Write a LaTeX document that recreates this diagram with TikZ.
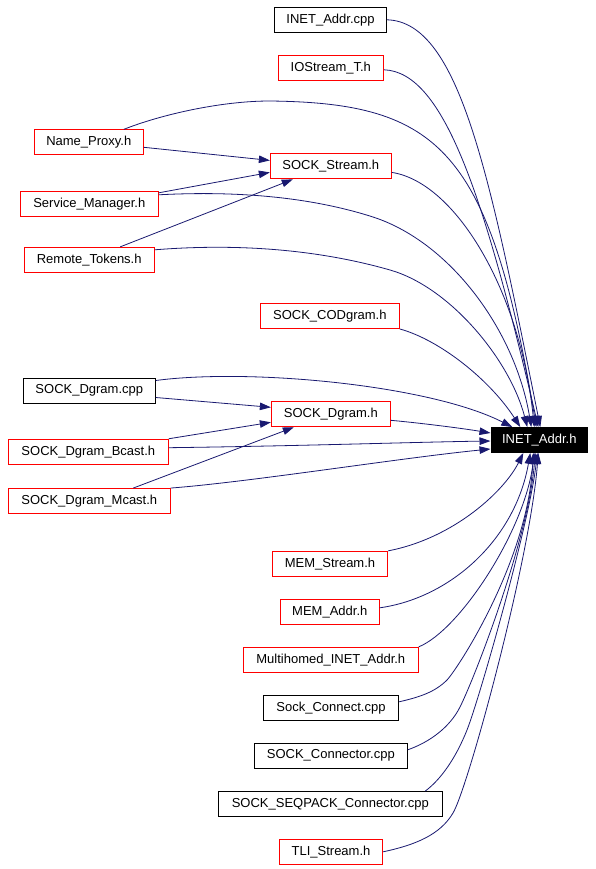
\documentclass[tikz,border=0pt]{standalone}
\usepackage{fontspec}
\setmainfont{Liberation Sans}
\usetikzlibrary{arrows.meta,calc}
\definecolor{edgecol}{HTML}{191970}
\begin{document}
\begin{tikzpicture}[x=1pt,y=-1pt,
  box/.style={rectangle, draw, line width=0.9pt, minimum height=25pt, inner sep=0pt, font=\fontsize{13}{15}\selectfont, text=black},
  redbox/.style={box, draw=red},
  blackbox/.style={box, draw=black},
  focusbox/.style={box, draw=black, fill=black, text=white},
  dep/.style={draw=edgecol, line width=0.8pt, -{Triangle[length=11pt,width=7.5pt]}}
]
\useasboundingbox[fill=white] (0,0) rectangle (595,869);

% nodes
\node[blackbox, minimum width=112.4pt] (iac) at (330.5,19.8) {INET\_Addr.cpp};
\node[redbox, minimum width=105.7pt] (ios) at (330.8,67.8) {IOStream\_T.h};
\node[redbox, minimum width=109pt] (np) at (88.8,142.3) {Name\_Proxy.h};
\node[redbox, minimum width=121pt] (ss) at (330.8,166.4) {SOCK\_Stream.h};
\node[redbox, minimum width=138pt] (sm) at (89.3,203.8) {Service\_Manager.h};
\node[redbox, minimum width=130.3pt] (rt) at (89.2,259.8) {Remote\_Tokens.h};
\node[redbox, minimum width=139pt] (cod) at (329.8,316) {SOCK\_CODgram.h};
\node[blackbox, minimum width=132pt] (dcpp) at (89.3,390.5) {SOCK\_Dgram.cpp};
\node[redbox, minimum width=119pt] (dh) at (330.8,414.3) {SOCK\_Dgram.h};
\node[redbox, minimum width=160pt] (bc) at (88.3,451.7) {SOCK\_Dgram\_Bcast.h};
\node[redbox, minimum width=162pt] (mc) at (89.3,501) {SOCK\_Dgram\_Mcast.h};
\node[focusbox, minimum width=96.7pt] (ia) at (539.3,440) {INET\_Addr.h};
\node[redbox, minimum width=115.4pt] (ms) at (330,563.8) {MEM\_Stream.h};
\node[redbox, minimum width=99pt] (ma) at (329.8,611.8) {MEM\_Addr.h};
\node[redbox, minimum width=175pt] (mh) at (330.8,659.8) {Multihomed\_INET\_Addr.h};
\node[blackbox, minimum width=135.4pt] (sc) at (331,707.8) {Sock\_Connect.cpp};
\node[blackbox, minimum width=153pt] (sco) at (330.8,755.8) {SOCK\_Connector.cpp};
\node[blackbox, minimum width=224pt] (sq) at (330.3,804) {SOCK\_SEQPACK\_Connector.cpp};
\node[redbox, minimum width=103.4pt] (tli) at (331,851.8) {TLI\_Stream.h};

% edges into SOCK_Stream.h
\draw[dep] ($(np.east)+(0,5)$) -- ($(ss.west)+(0,-6)$);
\draw[dep] ($(sm.east)+(0,-11)$) -- ($(ss.west)+(0,6)$);
\draw[dep] ($(rt.north)+(31,0)$) -- ($(ss.south)+(-38,0)$);

% edges into SOCK_Dgram.h
\draw[dep] ($(dcpp.east)+(0,7)$) -- ($(dh.west)+(0,-7)$);
\draw[dep] (bc.north east) -- ($(dh.west)+(0,8)$);
\draw[dep] ($(mc.north)+(44,0)$) -- ($(dh.south)+(-37,0)$);

% edges into INET_Addr.h from above
\draw[dep] (iac.east) .. controls (460,22) and (490,177) .. ($(ia.north)+(1,0)$);
\draw[dep] ($(ios.east)+(0,2)$) .. controls (445,72) and (485,200) .. ($(ia.north)+(-1,0)$);
\draw[dep] ($(np.north)+(35,0)$) .. controls (160,115) and (220,101) .. (270,101)
           .. controls (440,103) and (490,150) .. ($(ia.north)+(-3,0)$);
\draw[dep] ($(ss.east)+(0,6)$) .. controls (455,182) and (520,290) .. ($(ia.north)+(-5,0)$);
\draw[dep] ($(sm.east)+(0,-9)$) .. controls (250,190) and (320,200) .. (373,217)
           .. controls (450,242) and (515,330) .. ($(ia.north)+(-8,0)$);
\draw[dep] ($(rt.east)+(0,-10)$) .. controls (240,243) and (320,250) .. (390,270)
           .. controls (450,287) and (510,360) .. ($(ia.north)+(-12,0)$);
\draw[dep] (cod.south east) .. controls (440,340) and (490,380) .. ($(ia.north)+(-19,0)$);
\draw[dep] ($(dcpp.east)+(0,-10)$) .. controls (250,368) and (430,385) .. ($(ia.north)+(-27,0)$);

% edges into INET_Addr.h from the left
\draw[dep] ($(dh.east)+(0,6)$) .. controls (420,423) and (460,428) .. ($(ia.west)+(0,-7)$);
\draw[dep] ($(bc.east)+(0,-4)$) .. controls (300,446) and (420,442) .. ($(ia.west)+(0,1)$);
\draw[dep] (mc.north east) .. controls (250,482) and (400,458) .. ($(ia.west)+(0,9)$);

% edges into INET_Addr.h from below
\draw[dep] (ms.north east) .. controls (455,538) and (505,490) .. ($(ia.south)+(-16,0)$);
\draw[dep] ($(ma.east)+(0,-4)$) .. controls (450,598) and (515,540) .. ($(ia.south)+(-9,0)$);
\draw[dep] (mh.north east) .. controls (460,630) and (525,530) .. ($(ia.south)+(-5,0)$);
\draw[dep] ($(sc.east)+(0,-6)$) .. controls (420,697) and (435,692) .. (447,680)
           .. controls (459,667) and (528,560) .. ($(ia.south)+(-6,0)$);
\draw[dep] ($(sco.east)+(0,-6)$) .. controls (430,742) and (450,727) .. (460,707)
           .. controls (475,677) and (528,540) .. ($(ia.south)+(-4,0)$);
\draw[dep] ($(sq.north)+(95,0)$) .. controls (440,780) and (455,760) .. (467,730)
           .. controls (480,697) and (530,520) .. ($(ia.south)+(-2,0)$);
\draw[dep] (tli.east) .. controls (415,845) and (440,835) .. (453,813)
           .. controls (468,788) and (530,560) .. ($(ia.south)+(-1,0)$);
\end{tikzpicture}
\end{document}
